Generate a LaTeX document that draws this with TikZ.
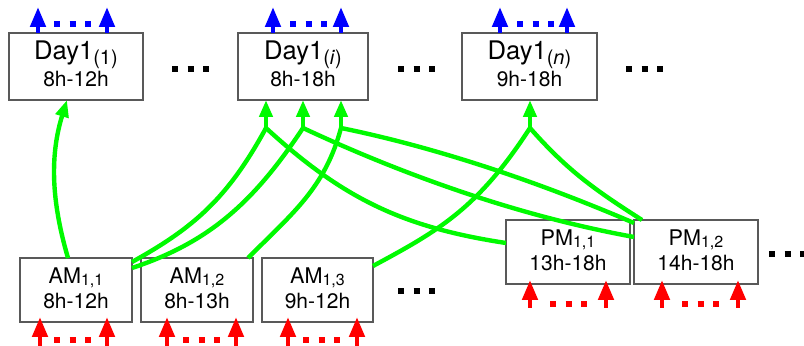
\documentclass[tikz,border=0pt]{standalone}
\usepackage{fontspec}
\setmainfont{TeX Gyre Heros}
\usetikzlibrary{arrows.meta}
\definecolor{gr}{RGB}{0,250,0}
\newcommand{\daylab}[2]{{\fontsize{12.8}{13.5}\selectfont Day1\raisebox{-2.4pt}{\fontsize{10}{12}\selectfont(#1)}}\\#2\rule[-3pt]{0pt}{0pt}}
\newcommand{\slotlab}[3]{{\fontsize{10.8}{12.5}\selectfont #1\raisebox{-1.2pt}{\fontsize{8}{9}\selectfont #2}}\\#3\rule[-2.25pt]{0pt}{0pt}}
\begin{document}
\begin{tikzpicture}[x=0.5pt,y=-0.5pt,
  box/.style={draw=black!65, line width=0.75pt, fill=white, inner sep=0pt, outer sep=0pt, align=center},
  daybox/.style={box, minimum height=33.5pt, font=\fontsize{10.5}{13.5}\selectfont},
  slotbox/.style={box, minimum height=32pt, font=\fontsize{10.5}{12.5}\selectfont},
  gline/.style={draw=gr, line width=2.2pt},
  garrow/.style={gline, -{Triangle[length=8.5pt,width=6.5pt]}},
  barrow/.style={draw=blue, line width=2.3pt, -{Triangle[length=10pt,width=7.5pt]}},
  rarrow/.style={draw=red, line width=2.3pt, -{Triangle[length=10pt,width=7.5pt]}},
  cdots/.style={line width=3pt, dash pattern=on 3pt off 4.75pt},
  kdots/.style={draw=black, line width=3pt, dash pattern=on 3pt off 4.75pt}
]
\useasboundingbox (0,0) rectangle (804,346);

% day boxes
\node[daybox, minimum width=67pt]   (D1) at (76,66.5)    {\daylab{1}{8h-12h}};
\node[daybox, minimum width=65pt]   (Di) at (303,66.5)   {\daylab{\textit{i}}{8h-18h}};
\node[daybox, minimum width=67.5pt] (Dn) at (529.5,66.5) {\daylab{\textit{n}}{9h-18h}};

% slot boxes
\node[slotbox, minimum width=56pt]   (A11) at (76,290)    {\slotlab{AM}{1,1}{8h-12h}};
\node[slotbox, minimum width=56pt]   (A12) at (197,290)   {\slotlab{AM}{1,2}{8h-13h}};
\node[slotbox, minimum width=55.5pt] (A13) at (317.5,290) {\slotlab{AM}{1,3}{9h-12h}};
\node[slotbox, minimum width=62pt]   (P11) at (568,252)   {\slotlab{PM}{1,1}{13h-18h}};
\node[slotbox, minimum width=62pt]   (P12) at (696,252)   {\slotlab{PM}{1,2}{14h-18h}};

% junctions
\coordinate (J1) at (266,128);
\coordinate (J2) at (303,128);
\coordinate (J3) at (341,128);
\coordinate (Jn) at (530,128);

% green connectors
\draw[garrow] ([xshift=-4pt]A11.north) .. controls (51,200) and (50,155) .. ([xshift=-4.5pt]D1.south);
\draw[garrow] (J1) -- (J1 |- Di.south);
\draw[garrow] (J2) -- (J2 |- Di.south);
\draw[garrow] (J3) -- (J3 |- Di.south);
\draw[garrow] (Jn) -- (Jn |- Dn.south);
\draw[gline] (J1) .. controls (227.6,198.4) and (193.9,227.7) .. ([yshift=-2pt]A11.north east);
\draw[gline] (J2) .. controls (253.5,202.7) and (209,242.4) .. ([yshift=-5pt]A11.north east);
\draw[gline] (J3) .. controls (325,188) and (292.6,213.2) .. ([xshift=-2.5pt]A12.north east);
\draw[gline] (Jn) .. controls (478,208) and (440,230) .. ([yshift=-4pt]A13.north east);
\draw[gline] (J1) .. controls (343,198.7) and (403,227.4) .. ([yshift=-11.5pt]P11.north west);
\draw[gline] (J2) .. controls (406.5,176.3) and (520.3,216.3) .. ([yshift=-8.5pt]P12.north west);
\draw[gline] (J3) .. controls (439,148) and (541,183) .. ([yshift=-1.5pt]P12.north west);
\draw[gline] (Jn) .. controls (567,170) and (594,189.4) .. ([xshift=4pt]P12.north west);

% blue outputs
\draw[barrow] ([xshift=-19pt]D1.north) -- ++(0,-26);
\draw[barrow] ([xshift=15.5pt]D1.north) -- ++(0,-26);
\draw[barrow] ([xshift=-15pt]Di.north) -- ++(0,-26);
\draw[barrow] ([xshift=19pt]Di.north) -- ++(0,-26);
\draw[barrow] ([xshift=-14.75pt]Dn.north) -- ++(0,-26);
\draw[barrow] ([xshift=18.75pt]Dn.north) -- ++(0,-26);
\draw[cdots, blue] (54,24) -- (91.5,24);
\draw[cdots, blue] (290,24) -- (327.5,24);
\draw[cdots, blue] (517,24) -- (554.5,24);

% red inputs
\draw[rarrow] ([xshift=-18pt,yshift=-12pt]A11.south) -- ([xshift=-18pt,yshift=2.5pt]A11.south);
\draw[rarrow] ([xshift=15.5pt,yshift=-12pt]A11.south) -- ([xshift=15.5pt,yshift=2.5pt]A11.south);
\draw[rarrow] ([xshift=-15pt,yshift=-12pt]A12.south) -- ([xshift=-15pt,yshift=2.5pt]A12.south);
\draw[rarrow] ([xshift=19.5pt,yshift=-12pt]A12.south) -- ([xshift=19.5pt,yshift=2.5pt]A12.south);
\draw[rarrow] ([xshift=-14.75pt,yshift=-12pt]A13.south) -- ([xshift=-14.75pt,yshift=2.5pt]A13.south);
\draw[rarrow] ([xshift=19.75pt,yshift=-12pt]A13.south) -- ([xshift=19.75pt,yshift=2.5pt]A13.south);
\draw[rarrow] ([xshift=-19pt,yshift=-12pt]P11.south) -- ([xshift=-19pt,yshift=2pt]P11.south);
\draw[rarrow] ([xshift=19pt,yshift=-12pt]P11.south) -- ([xshift=19pt,yshift=2pt]P11.south);
\draw[rarrow] ([xshift=-17pt,yshift=-12pt]P12.south) -- ([xshift=-17pt,yshift=2pt]P12.south);
\draw[rarrow] ([xshift=21pt,yshift=-12pt]P12.south) -- ([xshift=21pt,yshift=2pt]P12.south);
\draw[cdots, red] (54,340.5) -- (91.5,340.5);
\draw[cdots, red] (183,340.5) -- (220.5,340.5);
\draw[cdots, red] (303,340.5) -- (340.5,340.5);
\draw[cdots, red] (550,304.5) -- (587.5,304.5);
\draw[cdots, red] (682,304.5) -- (719.5,304.5);

% ellipses
\draw[kdots] (172,69) -- (209,69);
\draw[kdots] (398,69) -- (435,69);
\draw[kdots] (626,69) -- (663,69);
\draw[kdots] (398,291.5) -- (435,291.5);
\draw[kdots] (769,254) -- (806,254);
\end{tikzpicture}
\end{document}
